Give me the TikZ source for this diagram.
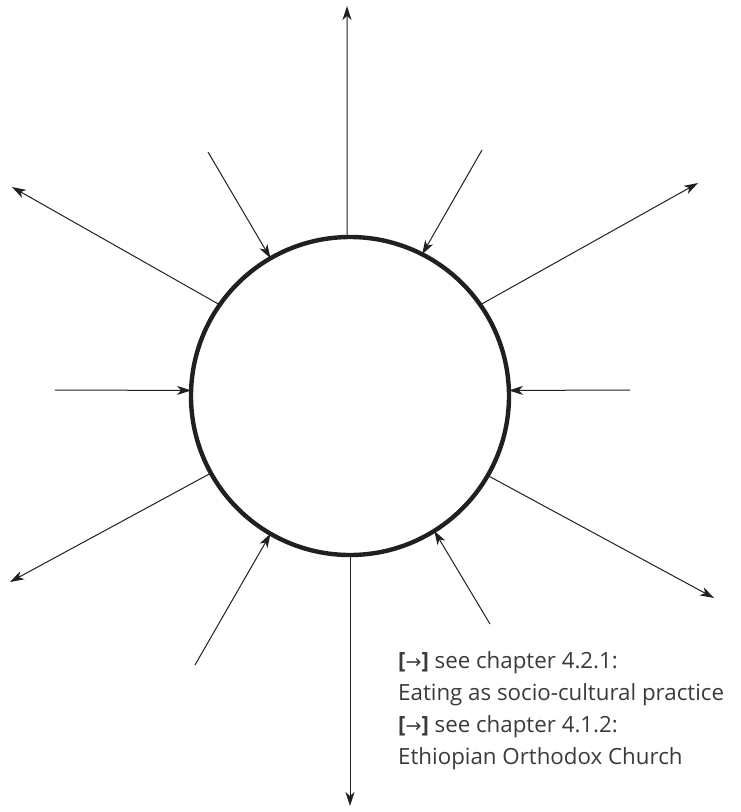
\documentclass[tikz,border=0pt]{standalone}
\usepackage{fontspec}
\setmainfont{Open Sans}
\newfontfamily\arrowfont{DejaVu Sans}
\usetikzlibrary{arrows.meta}
\definecolor{ink}{HTML}{231F20}
\definecolor{txt}{HTML}{3A3A3A}
\begin{document}
\begin{tikzpicture}[x=1pt,y=-1pt,
  ring/.style={circle,draw=ink,line width=4.4pt,minimum size=318pt,inner sep=0pt,outer sep=0pt},
  link/.style={draw=ink,line width=1pt,-{Stealth[length=14pt,width=9pt,inset=4pt]}},
  note/.style={anchor=west,inner sep=0pt,text=txt,font=\fontsize{22.3}{22.3}\selectfont}]
\useasboundingbox (0,0) rectangle (741,812);
\node[ring] (c) at (350,396) {};
% free ends
\coordinate (pN) at (347,6);
\coordinate (pS) at (350,806);
\coordinate (pNW) at (12,187);
\coordinate (pNE) at (698,183);
\coordinate (pSW) at (10,582);
\coordinate (pSE) at (714,598);
\coordinate (qNW) at (208,152);
\coordinate (qNE) at (482,150);
\coordinate (qSW) at (195,665);
\coordinate (qSE) at (490,624);
\coordinate (qW) at (55,390);
\coordinate (qE) at (630,390);
% outward
\draw[link] (c.91) -- (pN);
\draw[link] (c.270) -- (pS);
\draw[link] (c.145) -- (pNW);
\draw[link] (c.35) -- (pNE);
\draw[link] (c.209.5) -- (pSW);
\draw[link] (c.330) -- (pSE);
% inward
\draw[link] (qNW) -- (c.120.5);
\draw[link] (qNE) -- (c.63);
\draw[link] (qSW) -- (c.240.4);
\draw[link] (qSE) -- (c.302.6);
\draw[link] (qW) -- (c.178);
\draw[link] (qE) -- (c.2);
% notes
\node[note] (n1) at (398,663) {\textbf{[}{\arrowfont\fontsize{19}{19}\selectfont →}\textbf{]} see chapter 4.2.1:};
\node[note] (n2) at (398,695) {Eating as socio-cultural practice};
\node[note] (n3) at (398,727) {\textbf{[}{\arrowfont\fontsize{19}{19}\selectfont →}\textbf{]} see chapter 4.1.2:};
\node[note] (n4) at (398,759) {Ethiopian Orthodox Church};
\end{tikzpicture}
\end{document}
